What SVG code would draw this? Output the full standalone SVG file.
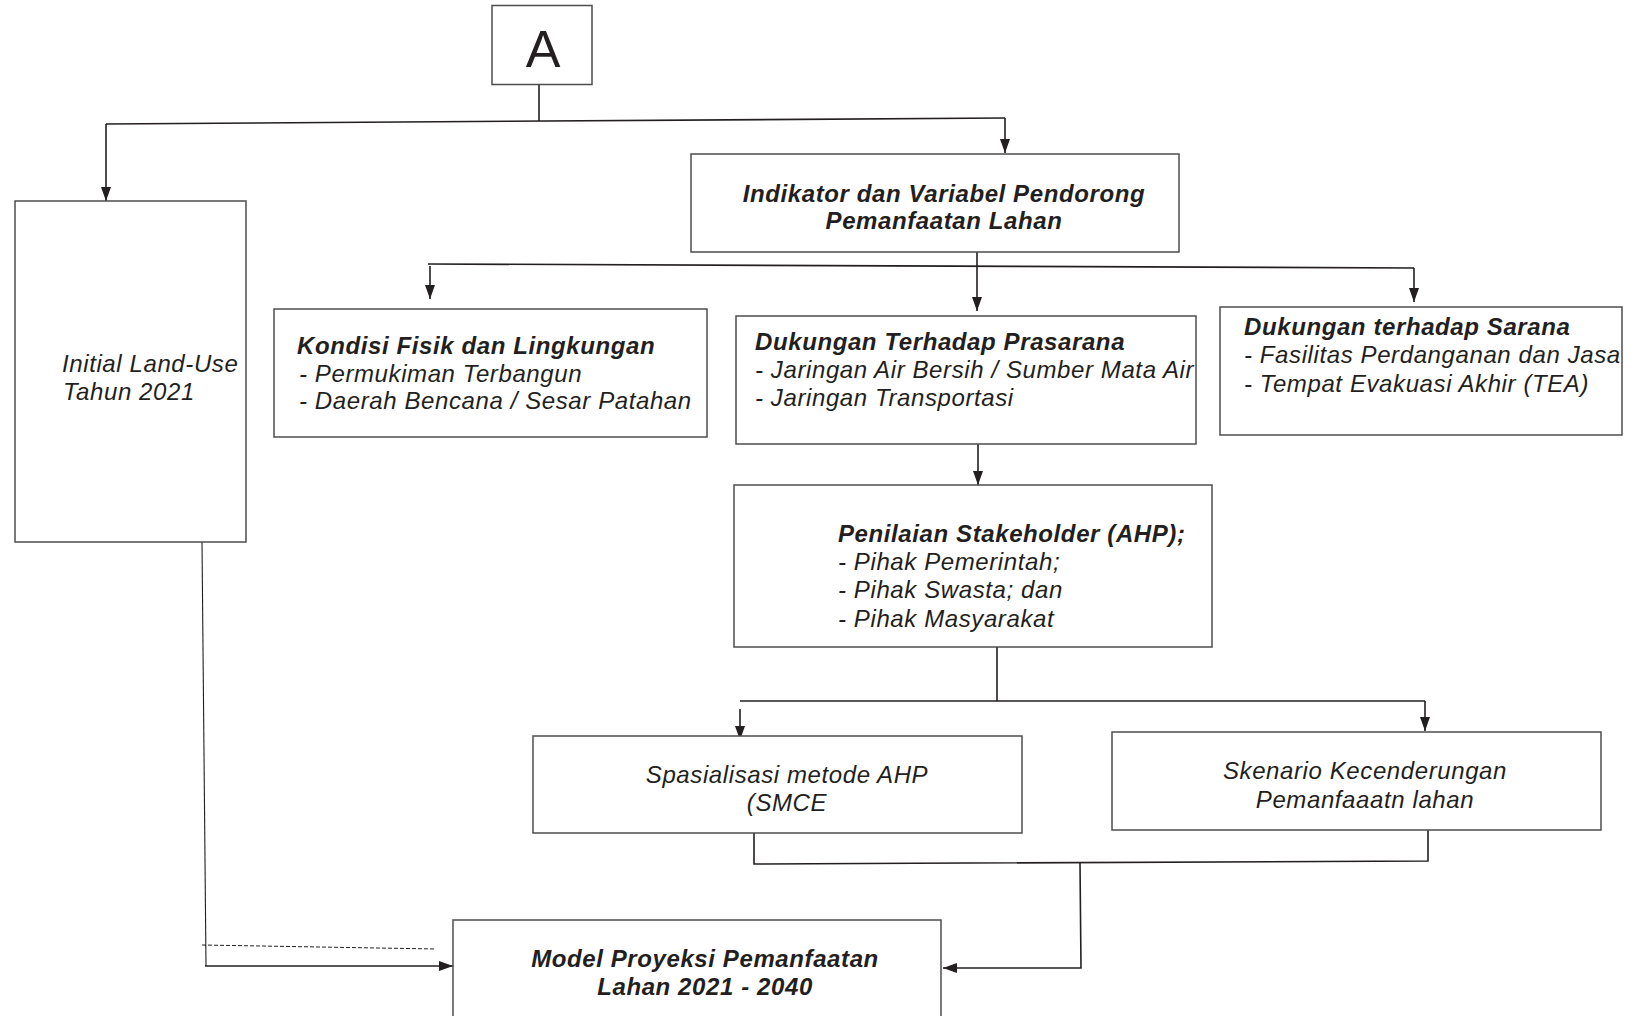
<svg xmlns="http://www.w3.org/2000/svg" width="1635" height="1016" viewBox="0 0 1635 1016">
<style>
.box{fill:#fff;stroke:#4d4d4d;stroke-width:1.5}
.ln{fill:none;stroke:#231f20;stroke-width:1.6}
.thin{fill:none;stroke:#231f20;stroke-width:1.1}
.t{font-family:"Liberation Sans",Arial,sans-serif;font-style:italic;font-size:24px;letter-spacing:0.6px;fill:#231f20}
.b{font-weight:bold}
.c{text-anchor:middle}
</style>
<defs>
<marker id="ah" markerUnits="userSpaceOnUse" markerWidth="14" markerHeight="10" refX="14" refY="5" orient="auto">
<path d="M0,0 L14,5 L0,10 z" fill="#231f20"/>
</marker>
</defs>
<g id="connectors">
<path class="ln" d="M539,84 L539,121"/>
<path class="ln" d="M106,124 L1005,118"/>
<path class="ln" d="M106,124 L106,201" marker-end="url(#ah)"/>
<path class="ln" d="M1005,118 L1005,153" marker-end="url(#ah)"/>
<path class="ln" d="M977,252 L977,311" marker-end="url(#ah)"/>
<path class="ln" d="M428,264 L1414,268"/>
<path class="ln" d="M430,266 L430,299" marker-end="url(#ah)"/>
<path class="ln" d="M1414,268 L1414,302" marker-end="url(#ah)"/>
<path class="ln" d="M978,444 L978,485" marker-end="url(#ah)"/>
<path class="ln" d="M997,647 L997,701"/>
<path class="ln" d="M740,701 L1425,701"/>
<path class="ln" d="M740,709 L740,740" marker-end="url(#ah)"/>
<path class="ln" d="M1425,701 L1425,731" marker-end="url(#ah)"/>
<path class="ln" d="M754,833 L754,864 L1428,861 L1428,830"/>
<path class="ln" d="M1080,863 L1081,968 L943,968" marker-end="url(#ah)"/>
<path class="thin" d="M202,542 L206,966"/>
<path class="ln" stroke-width="2.2" d="M205,966 L453,966" marker-end="url(#ah)"/>
<path fill="none" stroke="#231f20" stroke-width="1" stroke-dasharray="4,2" d="M202,945 L436,949"/>
</g>
<g id="node-a">
<rect class="box" x="492" y="5.5" width="100" height="79"/>
<text x="543" y="67" font-family="Liberation Sans,Arial,sans-serif" font-size="52" fill="#231f20" text-anchor="middle">A</text>
</g>
<g id="node-initial">
<rect class="box" x="15" y="201" width="231" height="341"/>
<text class="t" x="62" y="372">Initial Land-Use</text>
<text class="t" x="63" y="400">Tahun 2021</text>
</g>
<g id="node-indikator">
<rect class="box" x="691" y="154" width="488" height="98"/>
<text class="t b c" x="944" y="202">Indikator dan Variabel Pendorong</text>
<text class="t b c" x="944" y="229">Pemanfaatan Lahan</text>
</g>
<g id="node-kondisi">
<rect class="box" x="274" y="309" width="433" height="128"/>
<text class="t b" x="297" y="354">Kondisi Fisik dan Lingkungan</text>
<text class="t" x="299" y="382">- Permukiman Terbangun</text>
<text class="t" x="299" y="409">- Daerah Bencana / Sesar Patahan</text>
</g>
<g id="node-prasarana">
<rect class="box" x="736" y="316" width="460" height="128"/>
<text class="t b" x="755" y="350">Dukungan Terhadap Prasarana</text>
<text class="t" x="755" y="378">- Jaringan Air Bersih / Sumber Mata Air</text>
<text class="t" x="755" y="406">- Jaringan Transportasi</text>
</g>
<g id="node-sarana">
<rect class="box" x="1220" y="307" width="402" height="128"/>
<text class="t b" x="1244" y="335">Dukungan terhadap Sarana</text>
<text class="t" x="1244" y="363">- Fasilitas Perdanganan dan Jasa</text>
<text class="t" x="1244" y="392">- Tempat Evakuasi Akhir (TEA)</text>
</g>
<g id="node-penilaian">
<rect class="box" x="734" y="485" width="478" height="162"/>
<text class="t b" x="838" y="542">Penilaian Stakeholder (AHP);</text>
<text class="t" x="838" y="570">- Pihak Pemerintah;</text>
<text class="t" x="838" y="598">- Pihak Swasta; dan</text>
<text class="t" x="838" y="627">- Pihak Masyarakat</text>
</g>
<g id="node-spasialisasi">
<rect class="box" x="533" y="736" width="489" height="97"/>
<text class="t c" x="787" y="783">Spasialisasi metode AHP</text>
<text class="t c" x="787" y="811">(SMCE</text>
</g>
<g id="node-skenario">
<rect class="box" x="1112" y="732" width="489" height="98"/>
<text class="t c" x="1365" y="779">Skenario Kecenderungan</text>
<text class="t c" x="1365" y="808">Pemanfaaatn lahan</text>
</g>
<g id="node-model">
<rect class="box" x="453" y="920" width="488" height="120"/>
<text class="t b c" x="705" y="967">Model Proyeksi Pemanfaatan</text>
<text class="t b c" x="705" y="995">Lahan 2021 - 2040</text>
</g>
</svg>
